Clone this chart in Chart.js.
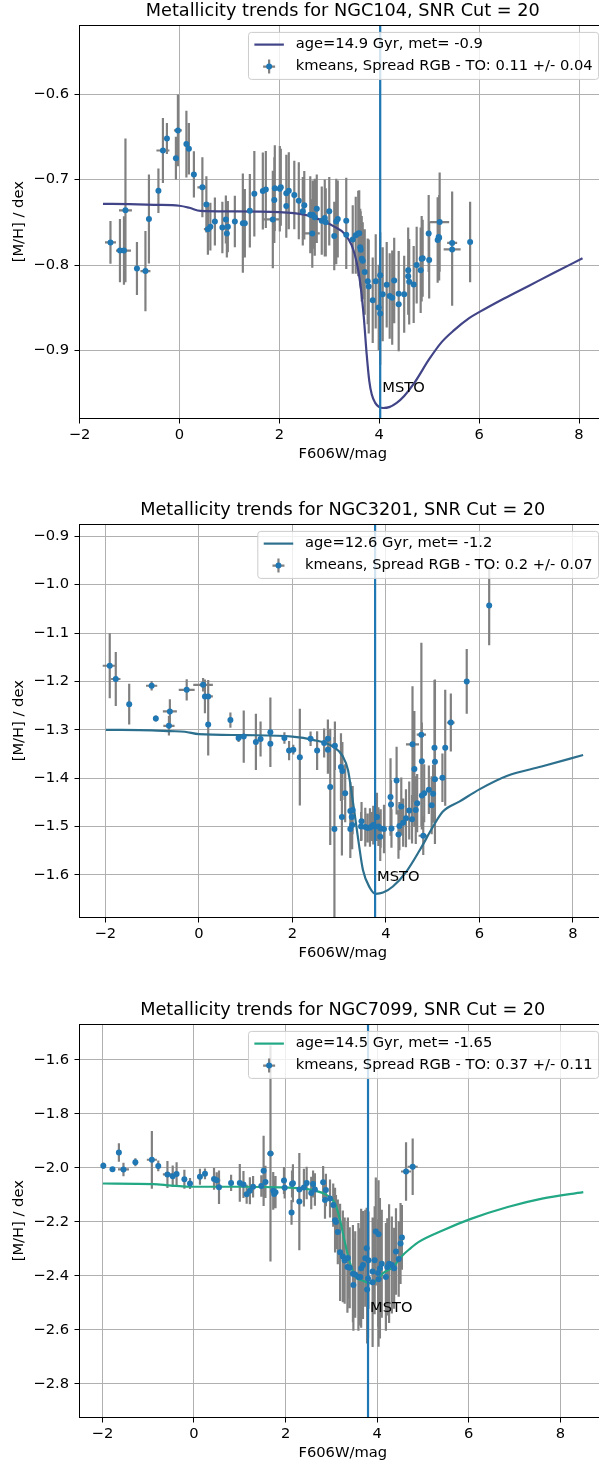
<!DOCTYPE html>
<html>
<head>
<meta charset="utf-8">
<script src="https://cdn.jsdelivr.net/npm/chart.js@4.4.0/dist/chart.umd.min.js"></script>
<style>
  html, body { margin: 0; padding: 0; background: #fff; overflow: hidden; }
  body { width: 599px; height: 1465px; position: relative; }
  canvas { position: absolute; left: 0; }
</style>
</head>
<body>
<canvas id="c1" width="610" height="480" style="top:0px"></canvas>
<canvas id="c2" width="610" height="480" style="top:499px"></canvas>
<canvas id="c3" width="610" height="480" style="top:999px"></canvas>
<script>
// ---- NGC104 ----
const ngc104X = [
  -1.38, -1.19, -1.11, -1.08, -0.85, -0.68, -0.61, -0.42, -0.33, -0.25,
  -0.07, -0.03, 0.14, 0.19, 0.29, 0.46, 0.54, 0.57, 0.62, 0.71,
  0.86, 0.93, 0.95, 0.97, 1.11, 1.27, 1.31, 1.41, 1.50, 1.67,
  1.73, 1.87, 1.90, 1.91, 2.01, 2.03, 2.14, 2.14, 2.19, 2.30,
  2.39, 2.47, 2.50, 2.62, 2.66, 2.67, 2.71, 2.75, 2.85, 2.91,
  2.93, 3.00, 3.10, 3.14, 3.17, 3.34, 3.34, 3.47, 3.53, 3.58,
  3.60, 3.62, 3.63, 3.65, 3.67, 3.71, 3.77, 3.79, 3.87, 3.93,
  3.99, 4.02, 4.02, 4.07, 4.15, 4.21, 4.26, 4.30, 4.39, 4.39,
  4.50, 4.58, 4.58, 4.60, 4.69, 4.75, 4.83, 4.85, 4.87, 4.99,
  5.00, 5.17, 5.19, 5.20, 5.21, 5.46, 5.46, 5.82
];
const ngc104Y = [
  -0.7735, -0.783, -0.783, -0.736, -0.804, -0.807, -0.746, -0.713, -0.666, -0.652,
  -0.675, -0.6425, -0.6585, -0.664, -0.694, -0.709, -0.729, -0.758, -0.755, -0.749,
  -0.756, -0.7466, -0.763, -0.755, -0.749, -0.751, -0.751, -0.7365, -0.7166, -0.7134,
  -0.7115, -0.7466, -0.724, -0.710, -0.7107, -0.709, -0.731, -0.716, -0.713, -0.718,
  -0.7248, -0.737, -0.730, -0.741, -0.763, -0.741, -0.744, -0.734, -0.748, -0.745,
  -0.750, -0.737, -0.766, -0.749, -0.746, -0.748, -0.7646, -0.770, -0.765, -0.763,
  -0.7626, -0.779, -0.782, -0.7926, -0.795, -0.808, -0.819, -0.825, -0.841, -0.819,
  -0.8495, -0.8565, -0.8117, -0.834, -0.823, -0.836, -0.838, -0.818, -0.8335, -0.8456,
  -0.834, -0.806, -0.813, -0.8195, -0.8226, -0.800, -0.806, -0.7926, -0.792, -0.763,
  -0.794, -0.7707, -0.767, -0.768, -0.7497, -0.774, -0.7816, -0.773
];
const ngc104YErr = [
  0.025, 0.037, 0.040, 0.084, 0.031, 0.047, 0.052, 0.026, 0.038, 0.018,
  0.025, 0.042, 0.039, 0.030, 0.027, 0.035, 0.033, 0.030, 0.028, 0.028,
  0.030, 0.028, 0.028, 0.030, 0.030, 0.058, 0.040, 0.043, 0.050, 0.045,
  0.045, 0.057, 0.050, 0.050, 0.050, 0.045, 0.037, 0.045, 0.045, 0.040,
  0.045, 0.040, 0.040, 0.045, 0.040, 0.040, 0.045, 0.040, 0.040, 0.045,
  0.040, 0.040, 0.040, 0.050, 0.045, 0.050, 0.040, 0.040, 0.045, 0.050,
  0.050, 0.045, 0.045, 0.050, 0.045, 0.050, 0.050, 0.055, 0.050, 0.055,
  0.050, 0.060, 0.050, 0.055, 0.050, 0.050, 0.055, 0.050, 0.050, 0.055,
  0.045, 0.050, 0.045, 0.050, 0.045, 0.045, 0.050, 0.050, 0.045, 0.045,
  0.045, 0.050, 0.045, 0.050, 0.058, 0.060, 0.066, 0.047
];
const ngc104XErr = [
  0.11, 0.08, 0.14, 0.13, 0, 0.10, 0, 0, 0.13, 0,
  0, 0.08, 0, 0, 0, 0.10, 0, 0.08, 0, 0,
  0, 0, 0, 0, 0, 0, 0, 0, 0, 0,
  0, 0.18, 0, 0, 0, 0, 0, 0, 0, 0,
  0, 0, 0, 0, 0.15, 0, 0, 0, 0, 0,
  0, 0, 0, 0, 0, 0, 0, 0, 0, 0,
  0, 0, 0, 0, 0, 0, 0, 0, 0, 0,
  0, 0, 0, 0, 0, 0, 0, 0, 0, 0,
  0, 0, 0, 0, 0, 0, 0, 0, 0, 0,
  0, 0, 0, 0, 0.19, 0.10, 0.17, 0
];
const ngc104ModelX = [-1.53, -1.0, -0.5, 0.0, 0.2, 0.42, 1.0, 2.0, 2.5, 2.9, 3.1, 3.3, 3.45, 3.55, 3.62, 3.69, 3.75, 3.80,
  3.85, 3.92, 4.0, 4.08, 4.2, 4.35, 4.5, 4.7, 5.0, 5.25, 5.5, 5.8, 6.0, 6.5, 7.0, 7.5, 8.07];
const ngc104ModelY = [-0.7283, -0.7288, -0.7295, -0.7306, -0.733, -0.7367, -0.7372, -0.738, -0.741, -0.749, -0.755, -0.763,
  -0.777, -0.797, -0.821, -0.86, -0.905, -0.935, -0.951, -0.961, -0.966, -0.967, -0.966, -0.961, -0.953, -0.938,
  -0.910, -0.890, -0.876, -0.862, -0.855, -0.839, -0.824, -0.809, -0.792];

// ---- NGC3201 ----
const ngc3201X = [
  -1.906, -1.777, -1.49, -1.01, -0.92, -0.62, -0.64, -0.26, 0.09, 0.13,
  0.20, 0.20, 0.675, 0.85, 0.96, 1.22, 1.32, 1.53, 1.53, 1.83,
  1.93, 2.02, 2.16, 2.39, 2.53, 2.68, 2.76, 2.76, 2.81, 2.91,
  2.90, 3.04, 3.07, 3.13, 3.24, 3.29, 3.06, 3.27, 3.24, 3.28,
  3.48, 3.47, 3.56, 3.61, 3.66, 3.70, 3.73, 3.81, 3.84, 3.88,
  3.89, 3.96, 4.10, 4.11, 4.12, 4.23, 4.27, 4.29, 4.33, 4.37,
  4.43, 4.50, 4.56, 4.61, 4.57, 4.64, 4.67, 4.77, 4.77, 4.76,
  4.82, 4.92, 4.98, 5.01, 5.04, 5.05, 5.05, 5.21, 5.27, 5.39,
  5.73, 6.21, 4.80
];
const ngc3201Y = [
  -1.1676, -1.195, -1.247, -1.209, -1.2766, -1.262, -1.2917, -1.2173, -1.207, -1.231,
  -1.231, -1.289, -1.280, -1.317, -1.314, -1.325, -1.319, -1.305, -1.329, -1.317,
  -1.343, -1.341, -1.3566, -1.3186, -1.343, -1.3275, -1.3186, -1.341, -1.418, -1.333,
  -1.505, -1.377, -1.385, -1.431, -1.468, -1.466, -1.480, -1.480, -1.505, -1.497,
  -1.489, -1.500, -1.501, -1.503, -1.502, -1.500, -1.497, -1.480, -1.500, -1.521,
  -1.504, -1.505, -1.439, -1.4545, -1.504, -1.405, -1.5165, -1.499, -1.4586, -1.492,
  -1.483, -1.467, -1.485, -1.381, -1.330, -1.466, -1.4516, -1.436, -1.365, -1.310,
  -1.431, -1.424, -1.456, -1.432, -1.337, -1.366, -1.402, -1.399, -1.337, -1.285,
  -1.200, -1.043, -1.519
];
const ngc3201YErr = [
  0.067, 0.056, 0.042, 0.010, 0.006, 0.025, 0.020, 0.022, 0.014, 0.035,
  0.034, 0.064, 0.016, 0.008, 0.054, 0.058, 0.036, 0.072, 0.020, 0.012,
  0.020, 0.010, 0.100, 0.015, 0.040, 0.030, 0.040, 0.050, 0.120, 0.050,
  0.190, 0.070, 0.060, 0.060, 0.060, 0.050, 0.080, 0.050, 0.060, 0.050,
  0.040, 0.030, 0.040, 0.030, 0.040, 0.030, 0.040, 0.050, 0.040, 0.050,
  0.040, 0.050, 0.080, 0.050, 0.040, 0.070, 0.050, 0.050, 0.060, 0.050,
  0.060, 0.060, 0.050, 0.120, 0.120, 0.070, 0.060, 0.070, 0.080, 0.190,
  0.060, 0.050, 0.060, 0.060, 0.140, 0.170, 0.070, 0.050, 0.120, 0.060,
  0.067, 0.082, 0.040
];
const ngc3201XErr = [
  0.15, 0.10, 0, 0.12, 0, 0.15, 0.12, 0.17, 0.21, 0,
  0.10, 0, 0, 0, 0, 0, 0, 0, 0, 0,
  0, 0, 0, 0, 0, 0, 0, 0, 0, 0,
  0, 0, 0, 0, 0, 0, 0, 0, 0, 0,
  0, 0, 0, 0, 0, 0, 0, 0, 0, 0,
  0, 0, 0, 0, 0, 0, 0, 0, 0, 0,
  0, 0, 0, 0, 0.14, 0, 0, 0, 0, 0.10,
  0, 0, 0, 0, 0, 0, 0, 0, 0, 0.08,
  0, 0, 0.10
];
const ngc3201ModelX = [-1.99, -1.0, -0.62, -0.3, 0.0, 1.0, 2.0, 2.44, 2.87, 3.08, 3.19, 3.26, 3.33, 3.41, 3.51, 3.66, 3.78,
  3.94, 4.15, 4.44, 4.73, 5.01, 5.22, 5.58, 6.01, 6.6, 7.33, 8.22];
const ngc3201ModelY = [-1.300, -1.301, -1.3027, -1.304, -1.309, -1.311, -1.314, -1.3207, -1.3345, -1.355, -1.383, -1.425,
  -1.472, -1.5275, -1.5896, -1.627, -1.639, -1.6365, -1.624, -1.593, -1.548, -1.500, -1.469, -1.448, -1.4226, -1.395,
  -1.376, -1.352];

// ---- NGC7099 ----
const ngc7099X = [
  -1.98, -1.78, -1.64, -1.54, -1.28, -0.92, -0.78, -0.58, -0.465, -0.38,
  -0.21, -0.087, 0.13, 0.24, 0.437, 0.495, 0.546, 0.81, 1.00, 1.08,
  1.15, 1.22, 1.29, 1.47, 1.52, 1.56, 1.67, 1.73, 1.75, 1.78,
  1.965, 1.98, 2.14, 2.16, 2.13, 2.30, 2.30, 2.40, 2.46, 2.56,
  2.60, 2.64, 2.82, 2.88, 2.86, 2.97, 3.04, 3.08, 3.10, 3.14,
  3.19, 3.25, 3.29, 3.36, 3.35, 3.40, 3.48, 3.47, 3.52, 3.59,
  3.63, 3.65, 3.69, 3.74, 3.77, 3.78, 3.80, 3.81, 3.90, 3.90,
  3.945, 3.97, 4.03, 4.03, 4.02, 4.06, 4.10, 4.19, 4.22, 4.26,
  4.32, 4.37, 4.41, 4.47, 4.51, 4.54, 4.63, 4.775
];
const ngc7099Y = [
  -1.9926, -2.005, -1.943, -2.006, -1.979, -1.970, -1.993, -2.0245, -2.031, -2.023,
  -2.042, -2.058, -2.033, -2.022, -2.041, -2.046, -2.0716, -2.056, -2.056, -2.062,
  -2.0976, -2.085, -2.070, -2.067, -2.011, -2.052, -1.947, -2.085, -2.097, -2.090,
  -2.047, -2.074, -2.060, -2.057, -2.165, -2.125, -2.080, -2.073, -2.056, -2.093,
  -2.060, -2.080, -2.053, -2.082, -2.119, -2.1136, -2.138, -2.194, -2.201, -2.2375,
  -2.313, -2.328, -2.3435, -2.334, -2.367, -2.370, -2.434, -2.392, -2.395, -2.404,
  -2.404, -2.372, -2.360, -2.335, -2.298, -2.451, -2.410, -2.342, -2.424, -2.384,
  -2.342, -2.236, -2.246, -2.413, -2.390, -2.372, -2.355, -2.404, -2.367, -2.355,
  -2.360, -2.372, -2.310, -2.338, -2.280, -2.258, -2.0135, -1.996
];
const ngc7099YErr = [
  0.012, 0.008, 0.034, 0.025, 0.015, 0.107, 0.020, 0.050, 0.040, 0.044,
  0.035, 0.020, 0.030, 0.020, 0.040, 0.030, 0.062, 0.030, 0.070, 0.050,
  0.035, 0.050, 0.040, 0.040, 0.130, 0.060, 0.400, 0.070, 0.050, 0.060,
  0.050, 0.040, 0.050, 0.070, 0.046, 0.180, 0.060, 0.070, 0.060, 0.060,
  0.050, 0.060, 0.060, 0.060, 0.070, 0.070, 0.080, 0.120, 0.100, 0.120,
  0.180, 0.170, 0.160, 0.150, 0.170, 0.150, 0.170, 0.180, 0.160, 0.200,
  0.180, 0.220, 0.200, 0.180, 0.150, 0.200, 0.220, 0.180, 0.240, 0.200,
  0.200, 0.200, 0.200, 0.250, 0.200, 0.260, 0.200, 0.200, 0.180, 0.220,
  0.180, 0.150, 0.160, 0.140, 0.150, 0.120, 0.108, 0.105
];
const ngc7099XErr = [
  0, 0, 0, 0.12, 0, 0.11, 0, 0.10, 0, 0,
  0, 0, 0, 0, 0, 0.08, 0, 0, 0, 0,
  0, 0, 0, 0, 0, 0, 0.07, 0, 0, 0,
  0, 0, 0, 0, 0, 0, 0, 0, 0, 0,
  0, 0, 0, 0, 0, 0, 0, 0, 0, 0,
  0, 0, 0, 0, 0, 0, 0, 0, 0, 0,
  0, 0, 0, 0, 0, 0, 0, 0, 0, 0,
  0, 0, 0, 0, 0, 0, 0, 0, 0, 0,
  0, 0, 0, 0, 0, 0, 0.11, 0.11
];
const ngc7099ModelX = [-1.99, -0.89, -0.5, -0.31, 0.0, 1.0, 1.88, 2.60, 2.90, 3.08, 3.19, 3.30, 3.41, 3.52, 3.70, 3.84,
  4.00, 4.13, 4.35, 4.52, 4.72, 4.90, 5.44, 6.03, 6.85, 7.60, 8.50];
const ngc7099ModelY = [-2.058, -2.060, -2.066, -2.068, -2.070, -2.070, -2.072, -2.083, -2.101, -2.132, -2.194, -2.280,
  -2.355, -2.402, -2.419, -2.427, -2.414, -2.390, -2.367, -2.330, -2.299, -2.275, -2.231, -2.190, -2.145, -2.114, -2.090];

// tick labels
const xTicks = [-2, 0, 2, 4, 6, 8];
const yTicks104 = [-0.6, -0.7, -0.8, -0.9];
const yTicks3201 = [-0.9, -1.0, -1.1, -1.2, -1.3, -1.4, -1.5, -1.6];
const yTicks7099 = [-1.6, -1.8, -2.0, -2.2, -2.4, -2.6, -2.8];

Chart.defaults.font.family = '"DejaVu Sans", sans-serif';
Chart.defaults.color = '#000';

const FS = 14.7;

function minusFmt(d) {
  return v => (v < 0 ? '\u2212' : '') + Math.abs(v).toFixed(d);
}

function roundRect(ctx, x, y, w, h, r) {
  ctx.beginPath();
  ctx.moveTo(x + r, y);
  ctx.arcTo(x + w, y, x + w, y + h, r);
  ctx.arcTo(x + w, y + h, x, y + h, r);
  ctx.arcTo(x, y + h, x, y, r);
  ctx.arcTo(x, y, x + w, y, r);
  ctx.closePath();
}

// grey error bars under the markers
const errorBars = {
  id: 'errorBars',
  beforeDatasetsDraw(chart) {
    const ds = chart.data.datasets[0];
    const xs = chart.scales.x, ys = chart.scales.y;
    const { ctx, chartArea: a } = chart;
    ctx.save();
    ctx.beginPath();
    ctx.rect(a.left, a.top, a.right - a.left, a.bottom - a.top);
    ctx.clip();
    ctx.strokeStyle = 'grey';
    ctx.lineWidth = 2.2;
    ctx.beginPath();
    ds.data.forEach((p, i) => {
      const px = xs.getPixelForValue(p.x), py = ys.getPixelForValue(p.y);
      const ye = ds.yErr[i], xe = ds.xErr[i];
      if (ye) {
        ctx.moveTo(px, ys.getPixelForValue(p.y + ye));
        ctx.lineTo(px, ys.getPixelForValue(p.y - ye));
      }
      if (xe) {
        ctx.moveTo(xs.getPixelForValue(p.x - xe), py);
        ctx.lineTo(xs.getPixelForValue(p.x + xe), py);
      }
    });
    ctx.stroke();
    ctx.restore();
  }
};

// axes box like matplotlib spines
const frame = {
  id: 'frame',
  afterDatasetsDraw(chart) {
    const { ctx, chartArea: a } = chart;
    const l = Math.floor(a.left) + 0.5, t = Math.floor(a.top) + 0.5;
    const r = Math.floor(a.right) + 0.5, b = Math.floor(a.bottom) + 0.5;
    ctx.save();
    ctx.strokeStyle = '#000';
    ctx.lineWidth = 1;
    ctx.strokeRect(l, t, r - l, b - t);
    ctx.restore();
  }
};

// legend box (upper right) and MSTO label
const mplLegend = {
  id: 'mplLegend',
  afterDraw(chart, args, o) {
    const { ctx, chartArea: a } = chart;
    const xs = chart.scales.x, ys = chart.scales.y;
    ctx.save();
    ctx.font = FS + 'px "DejaVu Sans"';
    ctx.fillStyle = '#000';
    ctx.textAlign = 'left';
    ctx.textBaseline = 'alphabetic';
    ctx.fillText('MSTO', xs.getPixelForValue(o.msto[0]) + 2, ys.getPixelForValue(o.msto[1]));

    const tw = Math.max(...o.labels.map(t => ctx.measureText(t).width));
    const w = 5.9 + 29.5 + 11.8 + tw + 5.9;
    const h = 47;
    const right = a.right - 7.4, top = a.top + 7.4, left = right - w;
    roundRect(ctx, left, top, w, h, 3);
    ctx.fillStyle = 'rgba(255,255,255,0.8)';
    ctx.fill();
    ctx.strokeStyle = '#cccccc';
    ctx.lineWidth = 1;
    ctx.stroke();

    const r1 = top + 12.2, r2 = top + 34.2;
    const hx0 = left + 5.9, hx1 = hx0 + 29.5, hc = (hx0 + hx1) / 2;
    ctx.strokeStyle = o.color;
    ctx.lineWidth = 2.2;
    ctx.beginPath();
    ctx.moveTo(hx0, r1);
    ctx.lineTo(hx1, r1);
    ctx.stroke();
    ctx.strokeStyle = 'grey';
    ctx.beginPath();
    ctx.moveTo(hc - 6, r2); ctx.lineTo(hc + 6, r2);
    ctx.moveTo(hc, r2 - 7); ctx.lineTo(hc, r2 + 7);
    ctx.stroke();
    ctx.fillStyle = '#1f77b4';
    ctx.beginPath();
    ctx.arc(hc, r2, 3, 0, Math.PI * 2);
    ctx.fill();

    ctx.fillStyle = '#000';
    ctx.textBaseline = 'middle';
    ctx.fillText(o.labels[0], hx1 + 11.8, r1);
    ctx.fillText(o.labels[1], hx1 + 11.8, r2);
    ctx.restore();
  }
};

function makeChart(id, p) {
  const pts = p.x.map((x, i) => ({ x, y: p.y[i] }));
  const model = p.mx.map((x, i) => ({ x, y: p.my[i] }));
  const grid = { color: '#b0b0b0', lineWidth: 1, tickLength: 5, tickColor: '#000', tickWidth: 1 };
  return new Chart(document.getElementById(id), {
    type: 'scatter',
    data: {
      datasets: [
        { type: 'scatter', data: pts, yErr: p.ye, xErr: p.xe, pointRadius: 3, pointHoverRadius: 3,
          backgroundColor: '#1f77b4', borderWidth: 0, order: 1 },
        { type: 'line', data: [{ x: p.to, y: p.ymin }, { x: p.to, y: p.ymax }], borderColor: '#1f77b4',
          borderWidth: 2.2, pointRadius: 0, order: 2 },
        { type: 'line', data: model, borderColor: p.color, borderWidth: 2.2, pointRadius: 0,
          cubicInterpolationMode: 'monotone', order: 3 }
      ]
    },
    options: {
      responsive: false,
      animation: false,
      events: [],
      layout: { padding: { left: 0, right: 4, top: 0, bottom: 0 } },
      plugins: {
        legend: { display: false },
        tooltip: { enabled: false },
        title: {
          display: true, text: p.title, fullSize: false, color: '#000',
          font: { size: 17.7, weight: 'normal' }, padding: { top: 0.5, bottom: 3.26 }
        },
        mplLegend: { labels: p.labels, color: p.color, msto: p.msto }
      },
      scales: {
        x: {
          type: 'linear', min: p.xmin, max: p.xmax,
          afterBuildTicks: s => { s.ticks = xTicks.map(v => ({ value: v })); },
          afterFit: s => { s.height = 61.5; },
          grid, border: { display: false },
          ticks: { callback: minusFmt(0), font: { size: FS }, color: '#000', padding: 3, maxRotation: 0, autoSkip: false },
          title: { display: true, text: 'F606W/mag', font: { size: FS }, color: '#000', padding: { top: 0, bottom: 17.4 } }
        },
        y: {
          type: 'linear', min: p.ymin, max: p.ymax,
          afterBuildTicks: s => { s.ticks = p.yt.map(v => ({ value: v })); },
          afterFit: s => { s.width = 79.5; },
          grid, border: { display: false },
          ticks: { callback: minusFmt(1), font: { size: FS }, color: '#000', padding: 5.5, autoSkip: false },
          title: { display: true, text: '[M/H] / dex', font: { size: FS }, color: '#000', padding: { top: 10.2, bottom: 0 } }
        }
      }
    },
    plugins: [errorBars, frame, mplLegend]
  });
}

makeChart('c1', {
  title: 'Metallicity trends for NGC104, SNR Cut = 20',
  x: ngc104X, y: ngc104Y, ye: ngc104YErr, xe: ngc104XErr, mx: ngc104ModelX, my: ngc104ModelY,
  to: 4.02, msto: [4.02, -0.948], color: '#414487',
  labels: ['age=14.9 Gyr, met= -0.9', 'kmeans, Spread RGB - TO: 0.11 +/- 0.04'],
  xmin: -2.0, xmax: 8.54, ymin: -0.9793, ymax: -0.5193, yt: yTicks104
});
makeChart('c2', {
  title: 'Metallicity trends for NGC3201, SNR Cut = 20',
  x: ngc3201X, y: ngc3201Y, ye: ngc3201YErr, xe: ngc3201XErr, mx: ngc3201ModelX, my: ngc3201ModelY,
  to: 3.77, msto: [3.77, -1.613], color: '#2d708e',
  labels: ['age=12.6 Gyr, met= -1.2', 'kmeans, Spread RGB - TO: 0.2 +/- 0.07'],
  xmin: -2.553, xmax: 8.709, ymin: -1.688, ymax: -0.8746, yt: yTicks3201
});
makeChart('c3', {
  title: 'Metallicity trends for NGC7099, SNR Cut = 20',
  x: ngc7099X, y: ngc7099Y, ye: ngc7099YErr, xe: ngc7099XErr, mx: ngc7099ModelX, my: ngc7099ModelY,
  to: 3.80, msto: [3.80, -2.533], color: '#22a884',
  labels: ['age=14.5 Gyr, met= -1.65', 'kmeans, Spread RGB - TO: 0.37 +/- 0.11'],
  xmin: -2.50, xmax: 8.996, ymin: -2.925, ymax: -1.467, yt: yTicks7099
});
</script>
</body>
</html>
